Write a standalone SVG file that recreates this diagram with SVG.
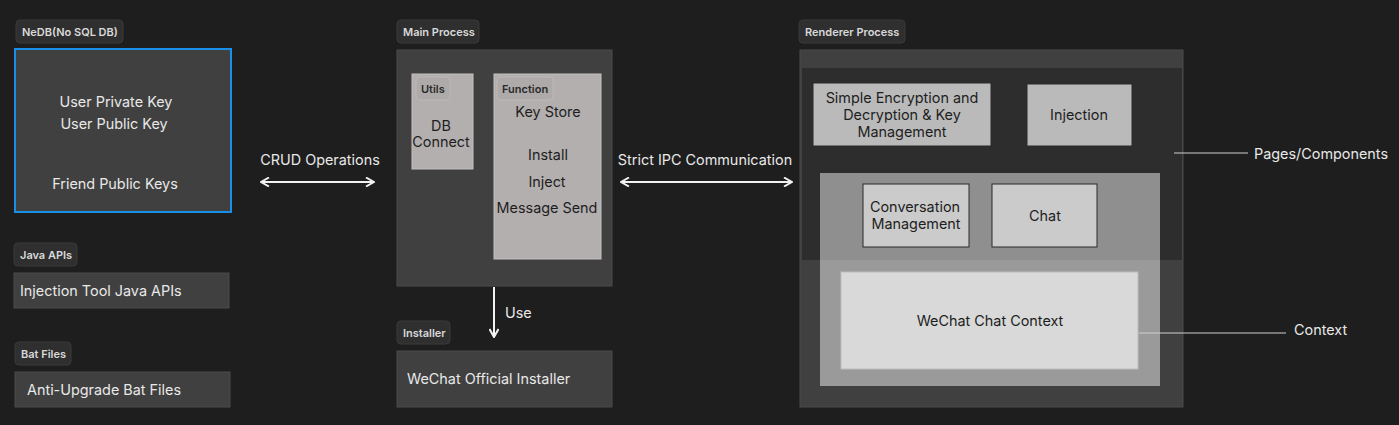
<svg xmlns="http://www.w3.org/2000/svg" width="1399" height="425" viewBox="0 0 1399 425">
<defs>
<style>
.bg{fill:#1e1e1e}
.badge{fill:#2f2f2f;stroke:#3a3a3a;stroke-width:1}
.badge-t{font-family:Inter,"Liberation Sans",sans-serif;font-size:11px;font-weight:600;fill:#d9d9d9}
.box{fill:#404040;stroke:#4a4a4a;stroke-width:1}
.t{font-family:Inter,"Liberation Sans",sans-serif;font-size:14.4px;fill:#e8e8e8}
.td{font-family:Inter,"Liberation Sans",sans-serif;font-size:14.4px;fill:#1e1e1e}
.light{fill:#b3afaf;stroke:#c4c0c0;stroke-width:1}
.ibadge{fill:#aeaaaa;stroke:#bdb9b9;stroke-width:1}
.ibadge-t{font-family:Inter,"Liberation Sans",sans-serif;font-size:11px;font-weight:600;fill:#2a2a2a}
.comp{fill:#bababa;stroke:#2a2a2a;stroke-width:1}
.comp2{fill:#cbcbcb;stroke:#2a2a2a;stroke-width:1}
.conn{stroke:#f2f2f2;stroke-width:2;fill:none}
.lead{stroke:#d0d0d0;stroke-width:1.2;fill:none}
</style>
<marker id="ah" viewBox="0 0 10 10" refX="9" refY="5" markerWidth="10" markerHeight="10" markerUnits="userSpaceOnUse" orient="auto-start-reverse">
<path d="M1,0.5 L9,5 L1,9.5" fill="none" stroke="#f2f2f2" stroke-width="2"/>
</marker>
</defs>
<rect class="bg" x="0" y="0" width="1399" height="425"/>

<g id="nedb">
<rect class="badge" x="16" y="20" width="107" height="23" rx="4"/>
<text class="badge-t" x="22" y="36">NeDB(No SQL DB)</text>
<rect x="15" y="49" width="216" height="163" fill="#404040" stroke="#1a8fe8" stroke-width="2"/>
<text class="t" x="116" y="107" text-anchor="middle">User Private Key</text>
<text class="t" x="114" y="129" text-anchor="middle">User Public Key</text>
<text class="t" x="115" y="189" text-anchor="middle">Friend Public Keys</text>
</g>

<g id="java-apis">
<rect class="badge" x="14" y="243" width="63" height="23" rx="4"/>
<text class="badge-t" x="20" y="259">Java APIs</text>
<rect class="box" x="14" y="273" width="215" height="35"/>
<text class="t" x="20" y="296">Injection Tool Java APIs</text>
</g>

<g id="bat-files">
<rect class="badge" x="15" y="342" width="56" height="23" rx="4"/>
<text class="badge-t" x="21" y="358">Bat Files</text>
<rect class="box" x="15" y="372" width="215" height="35"/>
<text class="t" x="27" y="395">Anti-Upgrade Bat Files</text>
</g>

<g id="main-process">
<rect class="badge" x="397" y="20" width="82" height="23" rx="4"/>
<text class="badge-t" x="403" y="36">Main Process</text>
<rect class="box" x="397" y="50" width="215" height="236"/>
<g id="utils">
<rect class="light" x="412" y="74" width="61" height="95"/>
<rect class="ibadge" x="416" y="77" width="34" height="23" rx="4"/>
<text class="ibadge-t" x="421" y="93">Utils</text>
<text class="td" x="441" y="131" text-anchor="middle">DB</text>
<text class="td" x="441" y="147" text-anchor="middle">Connect</text>
</g>
<g id="function">
<rect class="light" x="494" y="74" width="107" height="185"/>
<rect class="ibadge" x="497" y="77" width="56" height="23" rx="4"/>
<text class="ibadge-t" x="502" y="93">Function</text>
<text class="td" x="548" y="117" text-anchor="middle">Key Store</text>
<text class="td" x="548" y="160" text-anchor="middle">Install</text>
<text class="td" x="547" y="187" text-anchor="middle">Inject</text>
<text class="td" x="547" y="213" text-anchor="middle">Message Send</text>
</g>
</g>

<g id="installer">
<rect class="badge" x="397" y="321" width="53" height="23" rx="4"/>
<text class="badge-t" x="403" y="337">Installer</text>
<rect class="box" x="397" y="351" width="215" height="56"/>
<text class="t" x="407" y="384">WeChat Official Installer</text>
</g>

<g id="renderer-process">
<rect class="badge" x="799" y="20" width="106" height="23" rx="4"/>
<text class="badge-t" x="805" y="36">Renderer Process</text>
<rect class="box" x="800" y="50" width="383" height="357"/>
<rect x="802" y="68" width="380" height="192" fill="#2d2d2d"/>
<g id="encryption">
<rect class="comp" x="813" y="83" width="178" height="63"/>
<text class="td" x="902" y="103" text-anchor="middle">Simple Encryption and</text>
<text class="td" x="902" y="120" text-anchor="middle">Decryption &amp; Key</text>
<text class="td" x="902" y="137" text-anchor="middle">Management</text>
</g>
<g id="injection">
<rect class="comp" x="1027" y="84" width="105" height="62"/>
<text class="td" x="1079" y="120" text-anchor="middle">Injection</text>
</g>
<rect x="820" y="173" width="340" height="213" fill="#ffffff" fill-opacity="0.47"/>
<g id="conversation">
<rect class="comp2" x="863" y="184" width="106" height="63"/>
<text class="td" x="915" y="212" text-anchor="middle">Conversation</text>
<text class="td" x="916" y="229" text-anchor="middle">Management</text>
</g>
<g id="chat">
<rect class="comp2" x="992" y="184" width="105" height="63"/>
<text class="td" x="1045" y="221" text-anchor="middle">Chat</text>
</g>
<g id="wechat-context">
<rect x="841" y="272" width="297" height="97" fill="#d9d9d9" stroke="#bdbdbd" stroke-width="1"/>
<text class="td" x="990" y="326" text-anchor="middle">WeChat Chat Context</text>
</g>
</g>

<g id="connectors">
<line class="conn" x1="261" y1="182" x2="374" y2="182" marker-start="url(#ah)" marker-end="url(#ah)"/>
<text class="t" x="320" y="165" text-anchor="middle">CRUD Operations</text>
<line class="conn" x1="621" y1="182" x2="792" y2="182" marker-start="url(#ah)" marker-end="url(#ah)"/>
<text class="t" x="705" y="165" text-anchor="middle">Strict IPC Communication</text>
<line class="conn" x1="494" y1="287" x2="494" y2="337" marker-end="url(#ah)"/>
<text class="t" x="505" y="318">Use</text>
<line class="lead" x1="1174" y1="153" x2="1248" y2="153"/>
<text class="t" x="1254" y="159">Pages/Components</text>
<line class="lead" x1="1139" y1="333" x2="1286" y2="333"/>
<text class="t" x="1294" y="335">Context</text>
</g>
</svg>
